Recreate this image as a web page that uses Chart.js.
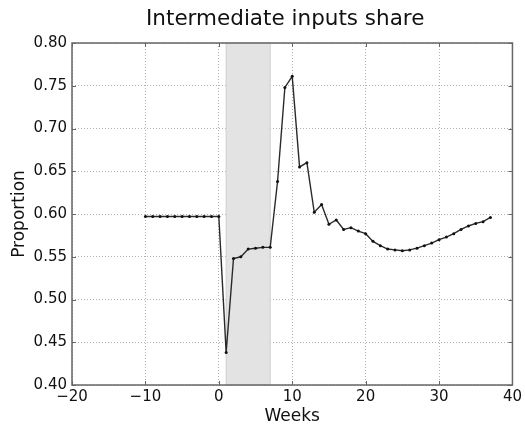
<!DOCTYPE html>
<html>
<head>
<meta charset="utf-8">
<script src="https://cdn.jsdelivr.net/npm/chart.js@4/dist/chart.umd.min.js"></script>
<style>
  html, body { margin: 0; padding: 0; background: #fff; }
  #wrap { width: 525px; height: 427px; }
</style>
</head>
<body>
<div id="wrap"><canvas id="grafico"></canvas></div>
<script>
// datos
const weeks = [-10, -9, -8, -7, -6, -5, -4, -3, -2, -1, 0, 1, 2, 3, 4, 5, 6, 7, 8, 9, 10,
  11, 12, 13, 14, 15, 16, 17, 18, 19, 20, 21, 22, 23, 24, 25, 26, 27, 28, 29, 30,
  31, 32, 33, 34, 35, 36, 37];
const share = [0.597, 0.597, 0.597, 0.597, 0.597, 0.597, 0.597, 0.597, 0.597, 0.597, 0.597,
  0.438, 0.548, 0.550, 0.559, 0.560, 0.561, 0.561, 0.638, 0.748, 0.761,
  0.655, 0.660, 0.602, 0.611, 0.588, 0.593, 0.582, 0.584, 0.580, 0.577,
  0.568, 0.563, 0.559, 0.558, 0.557, 0.558, 0.560, 0.563, 0.566, 0.570,
  0.573, 0.577, 0.582, 0.586, 0.589, 0.591, 0.596];
const shadeRange = [1, 7];
const xTicks = [-20, -10, 0, 10, 20, 30, 40];
const yTicks = [0.40, 0.45, 0.50, 0.55, 0.60, 0.65, 0.70, 0.75, 0.80];
const titulo = 'Intermediate inputs share';

const fuente = 'DejaVu Sans';

// franja sombreada, marco completo, marcas hacia dentro y titulo
const marcoPlugin = {
  id: 'marco',
  beforeDatasetsDraw(chart) {
    const { ctx, chartArea, scales } = chart;
    const x0 = scales.x.getPixelForValue(shadeRange[0]);
    const x1 = scales.x.getPixelForValue(shadeRange[1]);
    ctx.save();
    ctx.fillStyle = '#e3e3e3';
    ctx.fillRect(x0, chartArea.top, x1 - x0, chartArea.bottom - chartArea.top);
    ctx.strokeStyle = '#cfcfcf';
    ctx.lineWidth = 1;
    ctx.strokeRect(x0, chartArea.top, x1 - x0, chartArea.bottom - chartArea.top);
    ctx.restore();
  },
  afterDraw(chart) {
    const { ctx, chartArea, scales } = chart;
    const { left, right, top, bottom } = chartArea;
    ctx.save();
    ctx.strokeStyle = '#666';
    ctx.lineWidth = 1;
    ctx.beginPath();
    xTicks.forEach(v => {
      const px = Math.round(scales.x.getPixelForValue(v)) + 0.5;
      ctx.moveTo(px, bottom); ctx.lineTo(px, bottom - 4);
      ctx.moveTo(px, top); ctx.lineTo(px, top + 4);
    });
    yTicks.forEach(v => {
      const py = Math.round(scales.y.getPixelForValue(v)) + 0.5;
      ctx.moveTo(left, py); ctx.lineTo(left + 4, py);
      ctx.moveTo(right, py); ctx.lineTo(right - 4, py);
    });
    ctx.stroke();
    ctx.strokeStyle = '#666';
    ctx.lineWidth = 1.5;
    ctx.strokeRect(left, top, right - left, bottom - top);
    ctx.fillStyle = '#111';
    ctx.font = '21.5px "' + fuente + '"';
    ctx.textAlign = 'center';
    ctx.textBaseline = 'alphabetic';
    ctx.fillText(titulo, (left + right) / 2 - 7, 25);
    ctx.restore();
  }
};

function configuracion() {
  return {
    type: 'line',
    data: {
      datasets: [{
        data: weeks.map((w, i) => ({ x: w, y: share[i] })),
        borderColor: '#2a2a2a',
        borderWidth: 1.4,
        pointRadius: 1.5,
        pointBackgroundColor: '#111',
        pointBorderWidth: 0,
        tension: 0
      }]
    },
    options: {
      responsive: false,
      animation: false,
      layout: { padding: { top: 43, right: 10, left: 0, bottom: 0 } },
      plugins: {
        legend: { display: false },
        tooltip: { enabled: false },
        title: { display: false }
      },
      scales: {
        x: {
          type: 'linear',
          min: -20, max: 40,
          afterBuildTicks: s => { s.ticks = xTicks.map(v => ({ value: v })); },
          afterFit: s => { s.height = 42; },
          ticks: {
            color: '#111',
            font: { family: fuente, size: 15 },
            padding: 3,
            maxRotation: 0,
            callback: v => String(v).replace('-', '\u2212')
          },
          grid: { color: '#b0b0b0', drawTicks: false, lineWidth: 1 },
          border: { display: false, dash: [1, 2] },
          title: {
            display: true, text: 'Weeks', color: '#111',
            font: { family: fuente, size: 17 }, padding: { top: 0, bottom: 0 }
          }
        },
        y: {
          min: 0.4, max: 0.8,
          afterBuildTicks: s => { s.ticks = yTicks.map(v => ({ value: v })); },
          afterFit: s => { s.width = 72; },
          ticks: {
            color: '#111',
            font: { family: fuente, size: 15 },
            padding: 5,
            callback: v => Number(v).toFixed(2)
          },
          grid: { color: '#b0b0b0', drawTicks: false, lineWidth: 1 },
          border: { display: false, dash: [1, 2] },
          title: {
            display: true, text: 'Proportion', color: '#111',
            font: { family: fuente, size: 17 }, padding: { top: 9, bottom: 0 }
          }
        }
      }
    },
    plugins: [marcoPlugin]
  };
}

document.addEventListener('DOMContentLoaded', () => {
  const canvas = document.getElementById('grafico');
  canvas.width = 525;
  canvas.height = 427;
  new Chart(canvas, configuracion());
});
</script>
</body>
</html>
